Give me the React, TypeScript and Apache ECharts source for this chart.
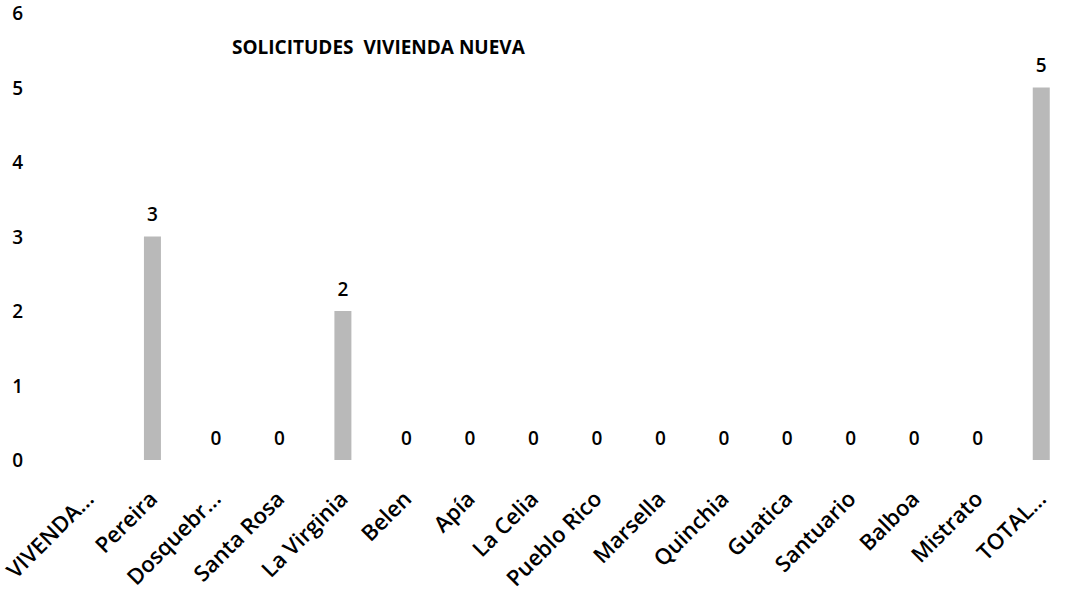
import React, { useEffect, useRef } from "react";
import * as echarts from "echarts";

const categories = [
  "VIVENDA...", "Pereira", "Dosquebr...", "Santa Rosa", "La Virginia", "Belen", "Apía",
  "La Celia", "Pueblo Rico", "Marsella", "Quinchia", "Guatica", "Santuario", "Balboa",
  "Mistrato", "TOTAL...",
];
const values: (number | null)[] = [null, 3, 0, 0, 2, 0, 0, 0, 0, 0, 0, 0, 0, 0, 0, 5];
const yTicks = { min: 0, max: 6, interval: 1 };
const titleText = "SOLICITUDES  VIVIENDA NUEVA";

export default function App() {
  const ref = useRef<HTMLDivElement>(null);
  useEffect(() => {
    document.body.style.margin = "0";
    const chart = echarts.init(ref.current!, null, { renderer: "svg" });
    const font = "'Open Sans', Lato, sans-serif";
    chart.setOption({
      animation: false,
      backgroundColor: "#ffffff",
      title: {
        text: titleText,
        left: 227,
        top: 32,
        textStyle: { fontFamily: font, fontSize: 19, fontWeight: "bold", color: "#000" },
      },
      grid: { left: 56, top: 13, bottom: 132, width: 1029 },
      xAxis: {
        type: "category",
        data: categories,
        axisLine: { show: false },
        axisTick: { show: false },
        axisLabel: {
          interval: 0,
          rotate: 45,
          margin: 34,
          color: "#000",
          fontFamily: font,
          fontSize: 22,
          fontWeight: 600,
        },
      },
      yAxis: {
        type: "value",
        min: yTicks.min,
        max: yTicks.max,
        interval: yTicks.interval,
        axisLine: { show: false },
        axisTick: { show: false },
        splitLine: { show: false },
        axisLabel: { margin: 34, color: "#000", fontFamily: font, fontSize: 19, fontWeight: 600 },
      },
      series: [
        {
          type: "bar",
          data: values,
          barWidth: 17,
          itemStyle: { color: "#b9b9b9", borderWidth: 0 },
          label: {
            show: true,
            position: "top",
            distance: 13,
            color: "#000",
            fontFamily: font,
            fontSize: 19,
            fontWeight: 600,
          },
        },
      ],
    });
    return () => chart.dispose();
  }, []);
  return <div ref={ref} style={{ width: 1073, height: 592 }} />;
}
